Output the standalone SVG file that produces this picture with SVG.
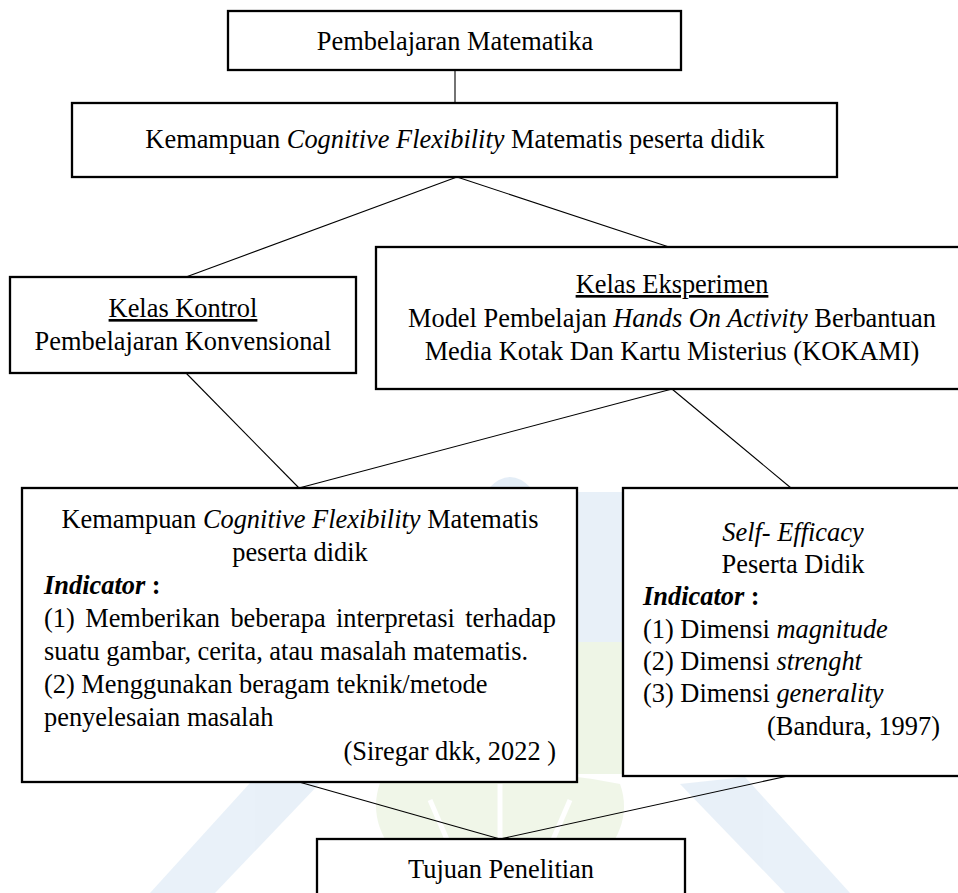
<svg xmlns="http://www.w3.org/2000/svg" width="958" height="893" viewBox="0 0 958 893">
<style>
.box{fill:#fff;stroke:#000;stroke-width:2.3}
.con line{stroke:#000;stroke-width:1.1;fill:none}
text{font-family:"Liberation Serif","Times New Roman",serif;font-size:26.4px;fill:#000}
.c{text-anchor:middle}
.e{text-anchor:end}
.i{font-style:italic}
.b{font-weight:bold}
.u{text-decoration:underline}
</style>
<rect width="958" height="893" fill="#fff"/>
<g id="watermark" opacity="0.5">
<path d="M489,488 Q510,466 531,488 Z" fill="#c9dcef"/>
<rect x="578" y="492" width="44" height="150" fill="#d3e3f3"/>
<rect x="578" y="642" width="44" height="132" fill="#dfeccf"/>
<path d="M150,893 L250,783 L320,783 L215,893 Z" fill="#d3e3f3"/>
<path d="M850,893 L745,777 L680,784 L785,893 Z" fill="#d3e3f3"/>
<path d="M380,783 Q500,760 620,784 Q640,840 560,893 L440,893 Q360,840 380,783 Z" fill="#e2eed3"/>
<path d="M500,784 L500,893 M430,800 L470,893 M570,800 L530,893" stroke="#fff" stroke-width="5" fill="none"/>
</g>
<g id="connectors" class="con">
<line x1="455" y1="70" x2="455" y2="103"/>
<line x1="457" y1="177" x2="186" y2="277"/>
<line x1="457" y1="177" x2="669" y2="247"/>
<line x1="186" y1="373" x2="299" y2="488"/>
<line x1="672" y1="389" x2="299" y2="488"/>
<line x1="672" y1="389" x2="791" y2="488"/>
<line x1="299" y1="782" x2="500" y2="839"/>
<line x1="788" y1="776" x2="500" y2="839"/>
</g>
<g id="pembelajaran">
<rect class="box" x="228" y="11" width="453" height="59"/>
<text class="c" x="455" y="50">Pembelajaran Matematika</text>
</g>
<g id="kemampuan">
<rect class="box" x="72" y="103" width="765" height="74"/>
<text class="c" x="455" y="148">Kemampuan <tspan class="i">Cognitive Flexibility</tspan> Matematis peserta didik</text>
</g>
<g id="kontrol">
<rect class="box" x="10" y="277" width="346" height="96"/>
<text class="c u" x="183" y="317">Kelas Kontrol</text>
<text class="c" x="183" y="350">Pembelajaran Konvensional</text>
</g>
<g id="eksperimen">
<rect class="box" x="376" y="247" width="592" height="142"/>
<text class="c u" x="672" y="293">Kelas Eksperimen</text>
<text class="c" x="672" y="327">Model Pembelajan <tspan class="i">Hands On Activity</tspan> Berbantuan</text>
<text class="c" x="672" y="360">Media Kotak Dan Kartu Misterius (KOKAMI)</text>
</g>
<g id="cognitive">
<rect class="box" x="22" y="488" width="555" height="294"/>
<text class="c" x="300" y="528">Kemampuan <tspan class="i">Cognitive Flexibility</tspan> Matematis</text>
<text class="c" x="300" y="561">peserta didik</text>
<text x="44" y="594"><tspan class="b i">Indicator</tspan><tspan class="b"> :</tspan></text>
<text x="44" y="627" word-spacing="3.8">(1) Memberikan beberapa interpretasi terhadap</text>
<text x="44" y="660">suatu gambar, cerita, atau masalah matematis.</text>
<text x="44" y="693">(2) Menggunakan beragam teknik/metode</text>
<text x="44" y="726">penyelesaian masalah</text>
<text class="e" x="556" y="760">(Siregar dkk, 2022 )</text>
</g>
<g id="selfefficacy">
<rect class="box" x="623" y="488" width="345" height="288"/>
<text class="c i" x="793" y="541">Self- Efficacy</text>
<text class="c" x="793" y="573">Peserta Didik</text>
<text x="643" y="605"><tspan class="b i">Indicator</tspan><tspan class="b"> :</tspan></text>
<text x="643" y="638">(1) Dimensi <tspan class="i">magnitude</tspan></text>
<text x="643" y="670">(2) Dimensi <tspan class="i">strenght</tspan></text>
<text x="643" y="702">(3) Dimensi <tspan class="i">generality</tspan></text>
<text class="e" x="940" y="735">(Bandura, 1997)</text>
</g>
<g id="tujuan">
<rect class="box" x="317" y="839" width="368" height="70"/>
<text class="c" x="501" y="878">Tujuan Penelitian</text>
</g>
</svg>
